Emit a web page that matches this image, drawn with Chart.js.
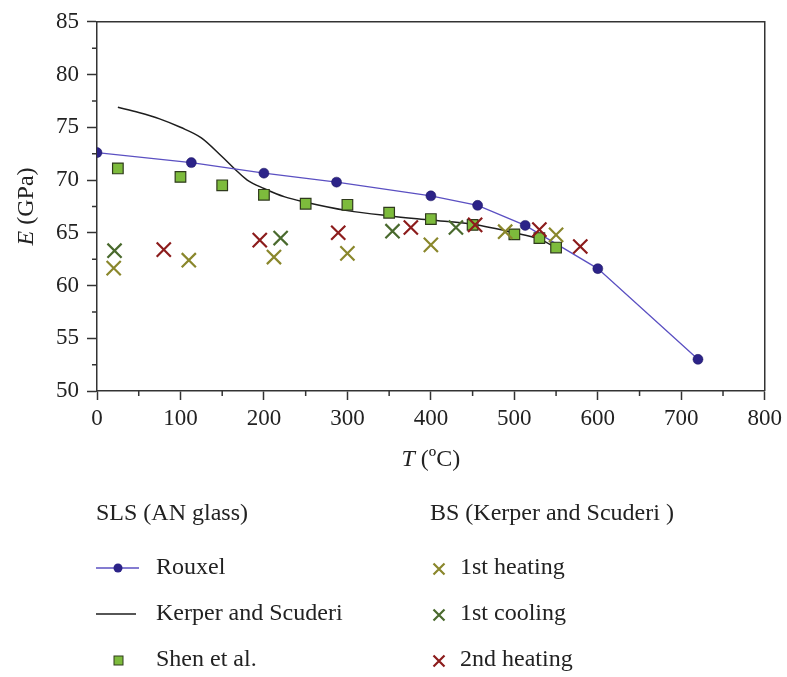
<!DOCTYPE html>
<html>
<head>
<meta charset="utf-8">
<script src="https://cdn.jsdelivr.net/npm/chart.js@4"></script>
<style>
  html, body { margin: 0; padding: 0; background: #fff; }
  #wrap { width: 787px; height: 677px; }
</style>
</head>
<body>
<div id="wrap"><canvas id="chart" width="787" height="677"></canvas></div>
<script>
// --- data ---
const rouxelT = [0, 113, 200, 287, 400, 456, 513, 600, 720];
const rouxelE = [72.6, 71.65, 70.65, 69.8, 68.5, 67.6, 65.7, 61.6, 53.0];

const kerperT = [25, 50, 75, 100, 125, 150, 165, 180, 200, 225, 250, 300, 350, 400, 450, 500, 530, 556];
const kerperE = [76.9, 76.4, 75.8, 75.0, 74.0, 72.2, 71.05, 70.0, 69.2, 68.4, 67.9, 67.1, 66.6, 66.2, 65.8, 65.0, 64.4, 63.3];

const shenT = [25, 100, 150, 200, 250, 300, 350, 400, 450, 500, 530, 550];
const shenE = [71.1, 70.3, 69.5, 68.6, 67.75, 67.65, 66.9, 66.3, 65.75, 64.85, 64.5, 63.6];

const heat1T = [20, 110, 212, 300, 400, 489, 550];
const heat1E = [61.65, 62.4, 62.7, 63.05, 63.85, 65.1, 64.8];

const cool1T = [21, 220, 354, 430];
const cool1E = [63.3, 64.5, 65.15, 65.5];

const heat2T = [80, 195, 289, 376, 453, 530, 579];
const heat2E = [63.4, 64.3, 65.0, 65.5, 65.75, 65.3, 63.7];

const xTicks = [0, 100, 200, 300, 400, 500, 600, 700, 800];
const yTicks = [50, 55, 60, 65, 70, 75, 80, 85];

const FONT = '"Liberation Serif", "DejaVu Serif", serif';

const pts = (xs, ys) => xs.map((x, i) => ({ x: x, y: ys[i] }));

// colours
const C = {
    rouxelLine: '#5b50c2',
    rouxelDot: '#2c2388',
    kerper: '#1e1e1e',
    shenFill: '#7dbb3c',
    shenEdge: '#2f3a1c',
    heat1: '#8a872c',
    cool1: '#4a6a2e',
    heat2: '#8c1c1c'
};

// minor ticks, box, axis titles and the two-column legend
const decor = {
    id: 'decor',
    afterDraw(chart) {
        const ctx = chart.ctx;
        const a = chart.chartArea;
        const xs = chart.scales.x, ys = chart.scales.y;
        ctx.save();
        ctx.strokeStyle = '#333';
        ctx.lineWidth = 1.5;
        // box top/right
        ctx.beginPath();
        ctx.moveTo(a.left, a.top);
        ctx.lineTo(a.right, a.top);
        ctx.lineTo(a.right, a.bottom);
        ctx.stroke();
        // minor ticks
        ctx.beginPath();
        for (let v = 50; v < 800; v += 100) {
            const p = xs.getPixelForValue(v);
            ctx.moveTo(p, a.bottom);
            ctx.lineTo(p, a.bottom + 5);
        }
        for (let v = 52.5; v < 85; v += 5) {
            const p = ys.getPixelForValue(v);
            ctx.moveTo(a.left, p);
            ctx.lineTo(a.left - 5, p);
        }
        ctx.stroke();

        // axis titles (italic symbol + upright unit)
        ctx.fillStyle = '#222';
        ctx.textBaseline = 'middle';
        const title = (sym, unit, cx, cy, rot) => {
            ctx.save();
            ctx.translate(cx, cy);
            ctx.rotate(rot);
            ctx.font = 'italic 24px ' + FONT;
            const w1 = ctx.measureText(sym).width;
            ctx.font = '24px ' + FONT;
            const w2 = ctx.measureText(unit).width;
            let x0 = -(w1 + w2) / 2;
            ctx.textAlign = 'left';
            ctx.font = 'italic 24px ' + FONT;
            ctx.fillText(sym, x0, 0);
            ctx.font = '24px ' + FONT;
            ctx.fillText(unit, x0 + w1, 0);
            ctx.restore();
        };
        title('T', ' (ºC)', (a.left + a.right) / 2, 460, 0);
        title('E', ' (GPa)', 27, (a.top + a.bottom) / 2, -Math.PI / 2);

        // legend
        ctx.font = '24px ' + FONT;
        ctx.textAlign = 'left';
        ctx.fillText('SLS (AN glass)', 96, 514);
        ctx.fillText('BS (Kerper and Scuderi )', 430, 514);

        const rows = [568, 614, 660];
        // Rouxel
        ctx.strokeStyle = C.rouxelLine;
        ctx.lineWidth = 1.3;
        ctx.beginPath(); ctx.moveTo(96, rows[0]); ctx.lineTo(139, rows[0]); ctx.stroke();
        ctx.fillStyle = C.rouxelDot;
        ctx.beginPath(); ctx.arc(118, rows[0], 4.5, 0, Math.PI * 2); ctx.fill();
        // Kerper
        ctx.strokeStyle = C.kerper;
        ctx.beginPath(); ctx.moveTo(96, rows[1]); ctx.lineTo(136, rows[1]); ctx.stroke();
        // Shen
        ctx.fillStyle = C.shenFill;
        ctx.strokeStyle = C.shenEdge;
        ctx.lineWidth = 1;
        ctx.fillRect(114, rows[2] - 4, 9, 9);
        ctx.strokeRect(114, rows[2] - 4, 9, 9);

        ctx.fillStyle = '#222';
        ctx.fillText('Rouxel', 156, rows[0]);
        ctx.fillText('Kerper and Scuderi', 156, rows[1]);
        ctx.fillText('Shen et al.', 156, rows[2]);

        const cross = (cx, cy, col) => {
            ctx.strokeStyle = col;
            ctx.lineWidth = 2.2;
            ctx.beginPath();
            ctx.moveTo(cx - 5.5, cy - 5.5); ctx.lineTo(cx + 5.5, cy + 5.5);
            ctx.moveTo(cx + 5.5, cy - 5.5); ctx.lineTo(cx - 5.5, cy + 5.5);
            ctx.stroke();
        };
        cross(439, rows[0] + 1, C.heat1);
        cross(439, rows[1] + 1, C.cool1);
        cross(439, rows[2] + 1, C.heat2);
        ctx.fillStyle = '#222';
        ctx.fillText('1st heating', 460, rows[0]);
        ctx.fillText('1st cooling', 460, rows[1]);
        ctx.fillText('2nd heating', 460, rows[2]);
        ctx.restore();
    }
};

const crossSet = (label, xs, ys, col) => ({
    label: label,
    data: pts(xs, ys),
    pointStyle: 'crossRot',
    pointRadius: 10,
    borderColor: col,
    backgroundColor: col,
    pointBorderWidth: 2.2,
    showLine: false,
    order: 0
});

new Chart(document.getElementById('chart'), {
    type: 'scatter',
    data: {
        datasets: [
            crossSet('1st heating', heat1T, heat1E, C.heat1),
            crossSet('1st cooling', cool1T, cool1E, C.cool1),
            crossSet('2nd heating', heat2T, heat2E, C.heat2),
            {
                label: 'Shen et al.',
                data: pts(shenT, shenE),
                pointStyle: 'rect',
                pointRadius: 7.5,
                backgroundColor: C.shenFill,
                borderColor: C.shenEdge,
                pointBorderWidth: 1.2,
                showLine: false,
                order: 1
            },
            {
                label: 'Rouxel',
                data: pts(rouxelT, rouxelE),
                showLine: true,
                borderColor: C.rouxelLine,
                borderWidth: 1.3,
                pointRadius: 5,
                pointBackgroundColor: C.rouxelDot,
                pointBorderColor: '#1c165e',
                pointBorderWidth: 0.5,
                tension: 0,
                order: 2
            },
            {
                label: 'Kerper and Scuderi',
                data: pts(kerperT, kerperE),
                showLine: true,
                borderColor: C.kerper,
                borderWidth: 1.5,
                pointRadius: 0,
                cubicInterpolationMode: 'monotone',
                order: 3
            }
        ]
    },
    options: {
        responsive: false,
        animation: false,
        events: [],
        layout: { padding: { top: 18, right: 20, left: 0, bottom: 0 } },
        plugins: {
            legend: { display: false },
            tooltip: { enabled: false }
        },
        scales: {
            x: {
                type: 'linear',
                min: 0,
                max: 800,
                afterBuildTicks: s => { s.ticks = xTicks.map(v => ({ value: v })); },
                afterFit: s => { s.height = 286; },
                border: { display: true, color: '#333', width: 1.5 },
                grid: { drawOnChartArea: false, drawTicks: true, tickLength: 9, tickColor: '#333', tickWidth: 1.5 },
                ticks: { color: '#222', padding: 5, font: { family: FONT, size: 23 }, maxRotation: 0 }
            },
            y: {
                type: 'linear',
                min: 50,
                max: 85,
                afterBuildTicks: s => { s.ticks = yTicks.map(v => ({ value: v })); },
                afterFit: s => { s.width = 97; },
                border: { display: true, color: '#333', width: 1.5 },
                grid: { drawOnChartArea: false, drawTicks: true, tickLength: 10, tickColor: '#333', tickWidth: 1.5 },
                ticks: { color: '#222', padding: 8, font: { family: FONT, size: 23 } }
            }
        }
    },
    plugins: [decor]
});
</script>
</body>
</html>
